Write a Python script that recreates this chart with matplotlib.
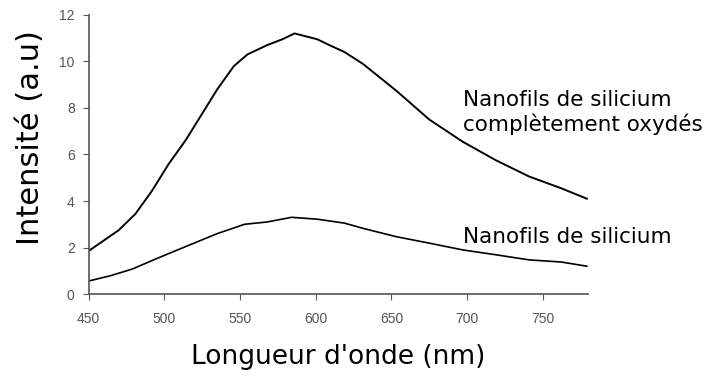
import matplotlib
matplotlib.use("Agg")
import matplotlib.pyplot as plt
import numpy as np

# Wavelength (nm) and intensity (a.u)
wl_oxyde = [450, 460, 470, 481, 492, 503, 514, 525, 535, 546, 555, 568, 578,
            586, 601, 609, 619, 631, 653, 675, 697, 719, 741, 762, 779]
int_oxyde = [1.85, 2.3, 2.75, 3.45, 4.45, 5.6, 6.6, 7.75, 8.8, 9.8, 10.3, 10.7, 10.95,
             11.2, 10.95, 10.7, 10.4, 9.9, 8.75, 7.5, 6.55, 5.75, 5.05, 4.55, 4.1]

wl_si = [450, 465, 479, 494, 514, 535, 553, 568, 584, 601, 619, 631, 653, 675,
         697, 719, 741, 762, 779]
int_si = [0.56, 0.8, 1.08, 1.5, 2.04, 2.6, 3.0, 3.1, 3.3, 3.22, 3.05, 2.83, 2.47, 2.19,
          1.9, 1.69, 1.47, 1.38, 1.2]

label_oxyde = "Nanofils de silicium\ncomplètement oxydés"
label_si = "Nanofils de silicium"

fig = plt.figure(figsize=(7.11, 3.80), dpi=100)
ax = fig.add_axes([0.1245, 0.226, 0.703, 0.735])

ax.plot(wl_oxyde, int_oxyde, color="black", lw=1.4)
ax.plot(wl_si, int_si, color="black", lw=1.2)

ax.set_xlim(450, 780)
ax.set_ylim(0, 12)
ax.set_xticks(np.arange(450, 751, 50))
ax.set_yticks(np.arange(0, 13, 2))

for side in ["top", "right"]:
    ax.spines[side].set_visible(False)
for side in ["left", "bottom"]:
    ax.spines[side].set_color("#555555")
    ax.spines[side].set_linewidth(1.2)
ax.tick_params(direction="out", length=4, color="#555555", labelcolor="#555555",
               labelsize=10, pad=6)
ax.tick_params(axis="x", pad=9)
for t in ax.get_xticklabels() + ax.get_yticklabels():
    t.set_family("Liberation Sans")

ax.set_xlabel("Longueur d'onde (nm)", fontsize=19, labelpad=13)
ax.set_ylabel("Intensité (a.u)", fontsize=22)
ax.yaxis.set_label_coords(-0.088, 0.56)

fig.text(0.651, 0.703, label_oxyde, fontsize=15.5, va="center", ha="left",
         linespacing=1.2)
fig.text(0.651, 0.376, label_si, fontsize=15.5, va="center", ha="left")

fig.savefig("out.png", dpi=100)
